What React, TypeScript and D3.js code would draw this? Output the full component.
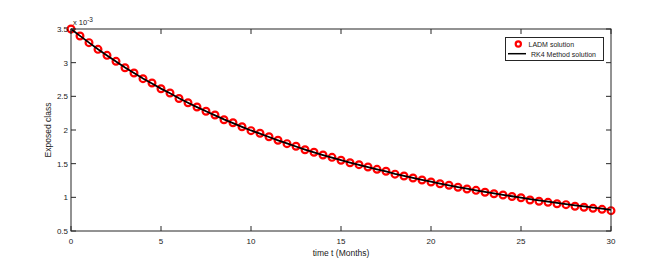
import React from "react";
import * as d3 from "d3";

const W = 663;
const H = 260;

const timeT: number[] = d3.range(0, 30.001, 0.5);
const ladmValues: number[] = [
  3.5, 3.396, 3.297, 3.198, 3.109, 3.02, 2.925, 2.847, 2.762, 2.698,
  2.613, 2.549, 2.468, 2.405, 2.342, 2.278, 2.223, 2.153, 2.108, 2.049,
  1.99, 1.951, 1.9, 1.847, 1.797, 1.758, 1.707, 1.669, 1.629, 1.594,
  1.55, 1.514, 1.485, 1.45, 1.416, 1.387, 1.344, 1.317, 1.287, 1.257,
  1.228, 1.202, 1.179, 1.149, 1.124, 1.104, 1.075, 1.054, 1.035, 1.012,
  0.994, 0.96, 0.941, 0.926, 0.905, 0.891, 0.867, 0.852, 0.837, 0.822,
  0.802,
];
const rk4Values: number[] = [
  3.5, 3.398, 3.298, 3.2, 3.108, 3.018, 2.928, 2.846, 2.765, 2.69,
  2.615, 2.545, 2.472, 2.405, 2.34, 2.278, 2.218, 2.158, 2.102, 2.046,
  1.993, 1.945, 1.896, 1.847, 1.8, 1.755, 1.71, 1.668, 1.628, 1.59,
  1.553, 1.516, 1.482, 1.448, 1.415, 1.384, 1.35, 1.32, 1.29, 1.261,
  1.233, 1.205, 1.179, 1.153, 1.128, 1.104, 1.08, 1.058, 1.037, 1.016,
  0.996, 0.975, 0.955, 0.936, 0.918, 0.9, 0.882, 0.865, 0.848, 0.832,
  0.815,
];
const xTicks: number[] = [0, 5, 10, 15, 20, 25, 30];
const yTicks: number[] = [0.5, 1, 1.5, 2, 2.5, 3, 3.5];
const seriesNames: string[] = ["LADM solution", "RK4 Method solution"];

export default function App() {
  const left = 71, right = 611, top = 29, bottom = 231;
  const x = d3.scaleLinear().domain([0, 30]).range([left, right]);
  const y = d3.scaleLinear().domain([0.5, 3.5]).range([bottom, top]);
  const line = d3
    .line<number>()
    .x((_, i) => x(timeT[i]))
    .y((d) => y(d));
  const axisColor = "#262626";
  const font = "'Liberation Sans', Arial, sans-serif";
  const tl = 5;

  return (
    <svg
      width={W}
      height={H}
      style={{ position: "absolute", left: 0, top: 0, background: "#fff" }}
      fontFamily={font}
    >
      <rect x={0} y={0} width={W} height={H} fill="#fff" />
      {/* markers */}
      {ladmValues.map((v, i) => (
        <circle
          key={i}
          cx={x(timeT[i])}
          cy={y(v)}
          r={3.4}
          fill="none"
          stroke="#ff0000"
          strokeWidth={2.2}
        />
      ))}
      <path d={line(rk4Values) || ""} fill="none" stroke="#000" strokeWidth={1.8} />
      {/* axes box */}
      <rect
        x={left}
        y={top}
        width={right - left}
        height={bottom - top}
        fill="none"
        stroke={axisColor}
        strokeWidth={1}
      />
      {xTicks.map((t) => (
        <g key={"x" + t}>
          <line x1={x(t)} x2={x(t)} y1={bottom} y2={bottom - tl} stroke={axisColor} />
          <line x1={x(t)} x2={x(t)} y1={top} y2={top + tl} stroke={axisColor} />
          <text
            x={x(t)}
            y={bottom + 13}
            fontSize={8}
            textAnchor="middle"
            fill="#1a1a1a"
          >
            {t}
          </text>
        </g>
      ))}
      {yTicks.map((t) => (
        <g key={"y" + t}>
          <line x1={left} x2={left + tl} y1={y(t)} y2={y(t)} stroke={axisColor} />
          <line x1={right} x2={right - tl} y1={y(t)} y2={y(t)} stroke={axisColor} />
          <text
            x={left - 3}
            y={y(t) + 3}
            fontSize={8}
            textAnchor="end"
            fill="#1a1a1a"
          >
            {t}
          </text>
        </g>
      ))}
      <text x={left + 2} y={top - 4} fontSize={7.5} fill="#1a1a1a">
        x 10
        <tspan dy={-3} fontSize={6.5}>
          -3
        </tspan>
      </text>
      <text
        x={(left + right) / 2}
        y={bottom + 25}
        fontSize={8.5}
        textAnchor="middle"
        fill="#1a1a1a"
      >
        time t (Months)
      </text>
      <text
        transform={`translate(51,${(top + bottom) / 2}) rotate(-90)`}
        fontSize={8.5}
        textAnchor="middle"
        fill="#1a1a1a"
      >
        Exposed class
      </text>
      {/* legend */}
      <rect x={505.5} y={37.5} width={98} height={23} fill="#fff" stroke={axisColor} />
      <circle cx={518.3} cy={44} r={2.6} fill="none" stroke="#ff0000" strokeWidth={2.2} />
      <text x={528.5} y={46.7} fontSize={7} fill="#1a1a1a">
        {seriesNames[0]}
      </text>
      <line x1={508} x2={526} y1={53.7} y2={53.7} stroke="#000" strokeWidth={1.5} />
      <text x={531} y={56.5} fontSize={7} fill="#1a1a1a">
        {seriesNames[1]}
      </text>
    </svg>
  );
}
